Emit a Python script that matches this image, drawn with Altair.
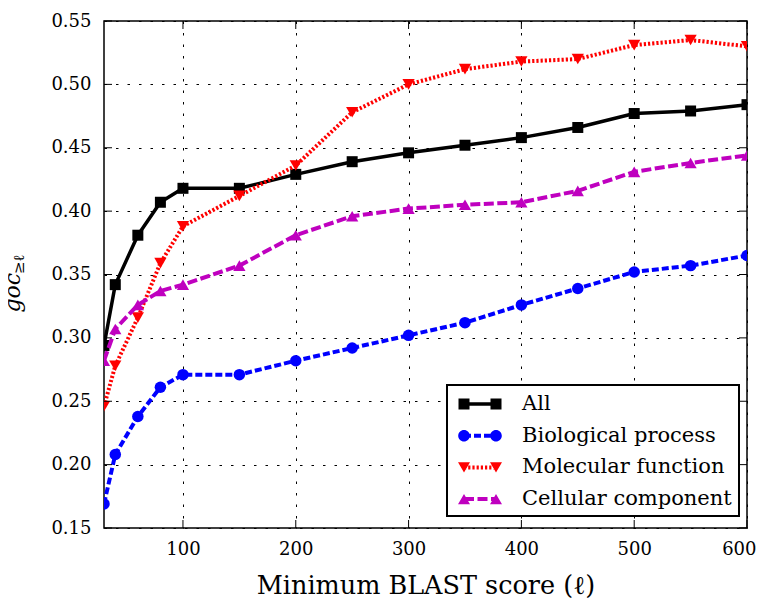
import altair as alt
import pandas as pd

# ---------------- data ----------------
x_vals = [30, 40, 60, 80, 100, 150, 200, 250, 300, 350, 400, 450, 500, 550, 600]
series_names = ["All", "Biological process", "Molecular function", "Cellular component"]
all_vals = [0.294, 0.342, 0.381, 0.407, 0.418, 0.418, 0.429, 0.439, 0.446, 0.452, 0.458, 0.466, 0.477, 0.479, 0.484]
bio_vals = [0.169, 0.208, 0.238, 0.261, 0.271, 0.271, 0.282, 0.292, 0.302, 0.312, 0.326, 0.339, 0.352, 0.357, 0.365]
mol_vals = [0.246, 0.278, 0.316, 0.359, 0.388, 0.412, 0.436, 0.478, 0.500, 0.512, 0.518, 0.520, 0.531, 0.535, 0.530]
cell_vals = [0.282, 0.307, 0.326, 0.337, 0.342, 0.357, 0.381, 0.396, 0.402, 0.405, 0.407, 0.416, 0.431, 0.438, 0.444]
x_ticks = [100, 200, 300, 400, 500, 600]
y_ticks = [0.15, 0.20, 0.25, 0.30, 0.35, 0.40, 0.45, 0.50, 0.55]

# ---------------- styles ----------------
colors = ["#000000", "#0000ff", "#ff0000", "#bf00bf"]
FONT = "DejaVu Serif, Liberation Serif, serif"
W, H = 643, 507
line_styles = [
    dict(strokeWidth=3.5),
    dict(strokeWidth=4, strokeDash=[7, 3]),
    dict(strokeWidth=4, strokeDash=[2.2, 2]),
    dict(strokeWidth=4, strokeDash=[10, 3.5]),
]
marker_styles = [
    dict(shape="square", size=121),
    dict(shape="circle", size=132),
    dict(shape="triangle-down", size=150),
    dict(shape="triangle-up", size=150),
]

rows = []
for name, vals in zip(series_names, [all_vals, bio_vals, mol_vals, cell_vals]):
    for xv, yv in zip(x_vals, vals):
        rows.append({"x": xv, "y": yv, "series": name})
df = pd.DataFrame(rows)

xscale = alt.Scale(domain=[30, 600], nice=False, zero=False)
yscale = alt.Scale(domain=[0.15, 0.55], nice=False, zero=False)
cscale = alt.Scale(domain=series_names, range=colors)

common = dict(grid=True, gridColor="black", gridDash=[2.5, 9], gridWidth=1, gridOpacity=1,
              ticks=False, domain=False, labelFont=FONT, labelFontSize=18, labelColor="black",
              titleFont=FONT, titleFontWeight="normal", titleColor="black")
xaxis = alt.Axis(title="Minimum BLAST score (ℓ)", values=x_ticks, labelPadding=12, titlePadding=15,
                 titleFontSize=25.5, labelFlush=True, labelFlushOffset=9, **common)
yaxis = alt.Axis(title="goc", values=y_ticks, format=".2f", labelPadding=13, labelFlush=False,
                 titleFontSize=22, titleFontStyle="italic", titleAngle=270, titleAlign="left",
                 titleBaseline="alphabetic", titleX=-84.5, titleY=291, **common)

X = alt.X("x:Q", scale=xscale, axis=xaxis)
Y = alt.Y("y:Q", scale=yscale, axis=yaxis)

layers = []
for i, name in enumerate(series_names):
    base = alt.Chart(df).transform_filter(alt.datum.series == name)
    layers.append(base.mark_line(clip=True, strokeJoin="round", color=colors[i], **line_styles[i]).encode(
        x=X, y=Y))
    layers.append(base.mark_point(clip=True, filled=True, opacity=1, color=colors[i], **marker_styles[i]).encode(
        x=X, y=Y))

# ---------------- legend symbols (marker - line - marker) as custom paths ----------------
U = 12.5      # px per path unit (sqrt(625)/2)
DX = 14.0     # shift of the drawn symbol to the right


def P(x, y):
    return f"{(x + DX) / U:.3f},{y / U:.3f}"


def rect(x0, x1, h):
    return f"M{P(x0, -h)}L{P(x1, -h)}L{P(x1, h)}L{P(x0, h)}Z"


def dashes(pattern, h, x0=-16, x1=16):
    out = ""
    pos = x0
    k = 0
    while pos < x1:
        seg = pattern[k % 2]
        if k % 2 == 0:
            out += rect(pos, min(pos + seg, x1), h)
        pos += seg
        k += 1
    return out


def square(c):
    return rect(c - 5.5, c + 5.5, 5.5)


def circle(c, r=5.8):
    rr = f"{r / U:.3f}"
    return f"M{P(c - r, 0)}A{rr},{rr} 0 1 1 {P(c + r, 0)}A{rr},{rr} 0 1 1 {P(c - r, 0)}Z"


def tri_down(c):
    return f"M{P(c - 6, -5.2)}L{P(c + 6, -5.2)}L{P(c, 5.2)}Z"


def tri_up(c):
    return f"M{P(c - 6, 5.2)}L{P(c, -5.2)}L{P(c + 6, 5.2)}Z"


paths = [
    rect(-16, 16, 1.7) + square(-16) + square(16),
    dashes([7, 3], 2) + circle(-16) + circle(16),
    dashes([2.2, 2], 2) + tri_down(-16) + tri_down(16),
    dashes([10, 3.5], 2) + tri_up(-16) + tri_up(16),
]

leg = alt.Legend(title=None, orient="none", legendX=343, legendY=364, padding=6.5, rowPadding=8.7,
                 labelOffset=43.5, labelFont=FONT, labelFontSize=21, labelColor="black",
                 symbolSize=625, symbolStrokeWidth=0, symbolOpacity=1, strokeColor="black",
                 fillColor="white", labelLimit=400)

legend_layer = alt.Chart(df).mark_point(filled=True, opacity=0, size=625).encode(
    x=X, y=Y,
    color=alt.Color("series:N", scale=cscale, legend=leg),
    shape=alt.Shape("series:N", scale=alt.Scale(domain=series_names, range=paths), legend=leg),
)

# ---------------- inward ticks on all four sides ----------------
xt = pd.DataFrame({"x": x_ticks})
yt = pd.DataFrame({"y": y_ticks})
tick_layers = [
    alt.Chart(xt).mark_rule(color="black", strokeWidth=1).encode(x=X, y=alt.value(H), y2=alt.value(H - 8)),
    alt.Chart(xt).mark_rule(color="black", strokeWidth=1).encode(x=X, y=alt.value(0), y2=alt.value(8)),
    alt.Chart(yt).mark_rule(color="black", strokeWidth=1).encode(y=Y, x=alt.value(0), x2=alt.value(8)),
    alt.Chart(yt).mark_rule(color="black", strokeWidth=1).encode(y=Y, x=alt.value(W), x2=alt.value(W - 8)),
]

# ---------------- subscript of the y title ----------------
title_sub = alt.Chart(pd.DataFrame({"t": ["≥ℓ"]})).mark_text(
    align="left", baseline="alphabetic", font=FONT, fontSize=15, angle=270,
    color="black").encode(text="t:N", x=alt.value(-80.5), y=alt.value(253))

chart = alt.layer(*layers, legend_layer, *tick_layers, title_sub).properties(
    width=W, height=H,
    autosize=alt.AutoSizeParams(type="none"),
    padding={"left": 96, "top": 13, "right": 9, "bottom": 70},
).configure_view(stroke="black", strokeWidth=1.5).configure_legend(strokeWidth=2)

chart.save("out.html", embed_options={"renderer": "svg", "actions": False})
